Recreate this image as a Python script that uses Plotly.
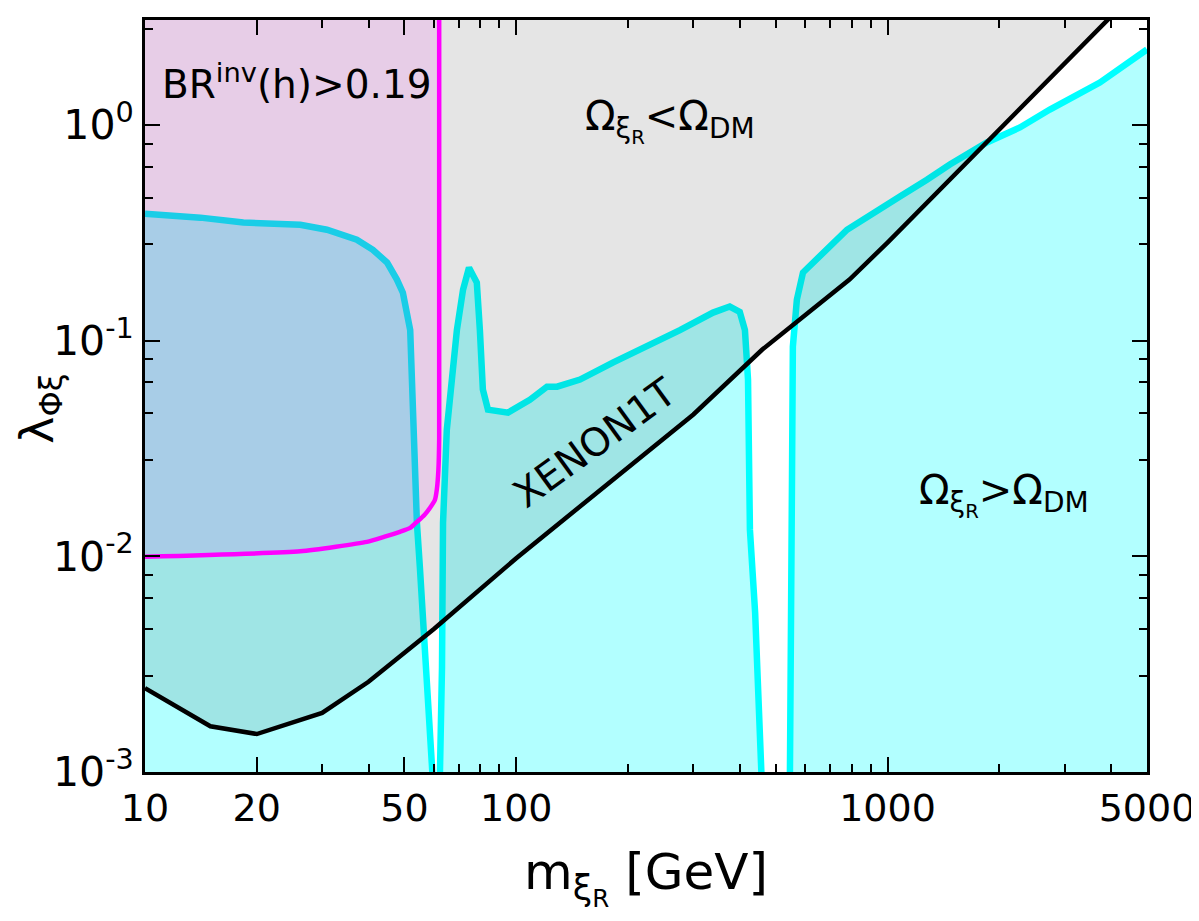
import plotly.graph_objects as go
import numpy as np

# relic density curve (Omega = Omega_DM), cyan
relic_m = [10, 14.1, 18.4, 22.7, 26.2, 30.9, 37.2, 41.1, 44.9, 47.7, 49.5, 51.8, 52.7, 54.0, 55.0, 57.5, 59.7,
           62.0, 62.3, 63.1, 63.5, 65.0, 69.2, 71.9, 74.6, 78.3, 79.8, 81.3, 83.9, 90.3, 95.0, 108.8, 121, 128.8,
           148.5, 182, 225, 276, 339, 376, 400, 413, 421, 426, 440, 461, 470, 540, 546, 553, 556, 570, 592, 778,
           914, 1080, 1277, 1472, 1852, 2274, 2737, 3732, 5000]
relic_lam = [0.388, 0.372, 0.353, 0.349, 0.345, 0.327, 0.294, 0.264, 0.230, 0.192, 0.167, 0.112, 0.0386, 0.0143,
             0.00893, 0.00307, 0.00105, 0.0003, 0.001, 0.00307, 0.0143, 0.0386, 0.112, 0.1725, 0.218, 0.186, 0.112,
             0.0593, 0.0479, 0.0469, 0.0464, 0.0532, 0.0612, 0.0612, 0.0660, 0.0791, 0.0938, 0.112, 0.135, 0.144,
             0.136, 0.112, 0.0660, 0.0133, 0.00547, 0.001, 0.0003, 0.0003, 0.001, 0.0227, 0.0938, 0.155, 0.207,
             0.327, 0.393, 0.466, 0.558, 0.656, 0.830, 0.974, 1.18, 1.574, 2.24]

# XENON1T limit, black
xenon_m = [10, 15, 20, 30, 40, 60, 100, 200, 300, 460, 790, 1000, 5000]
xenon_lam = [2.45e-3, 1.63e-3, 1.5e-3, 1.88e-3, 2.62e-3, 4.6e-3, 9.8e-3, 0.026, 0.0455, 0.091, 0.192, 0.285, 4.7]

# invisible higgs width bound, magenta
brinv_m = [10, 26.2, 39.6, 44.0, 48.6, 51.8, 54.0, 56.5, 58.6, 60.4, 61.1, 61.7, 62.0, 62.0]
brinv_lam = [0.00996, 0.01055, 0.01167, 0.0123, 0.0130, 0.01355, 0.01445, 0.0155, 0.0168, 0.0183, 0.0204,
             0.0252, 0.035, 5]

x_ticks = [10, 20, 50, 100, 1000, 5000]
y_ticks = [1e-3, 1e-2, 1e-1, 1]
y_ticktext = ["10<sup>-3</sup>", "10<sup>-2</sup>", "10<sup>-1</sup>", "10<sup>0</sup>"]

lo, hi = 1e-4, 100
font = "DejaVu Sans"

fig = go.Figure()

# overabundant region (below relic curve)
fig.add_trace(go.Scatter(x=relic_m + [relic_m[-1], relic_m[0]], y=relic_lam + [lo, lo],
                         fill="toself", fillcolor="rgba(0,255,255,0.3)", mode="none", showlegend=False))
fig.add_trace(go.Scatter(x=relic_m, y=relic_lam, mode="lines", line=dict(color="#00ffff", width=6.5),
                         showlegend=False))
# XENON1T excluded region
fig.add_trace(go.Scatter(x=xenon_m + [xenon_m[-1], xenon_m[0]], y=xenon_lam + [hi, hi],
                         fill="toself", fillcolor="rgba(0,0,0,0.1)", mode="none", showlegend=False))
# BR inv excluded region
fig.add_trace(go.Scatter(x=brinv_m + [brinv_m[0]], y=brinv_lam + [hi],
                         fill="toself", fillcolor="rgba(255,0,255,0.1)", mode="none", showlegend=False))
fig.add_trace(go.Scatter(x=brinv_m, y=brinv_lam, mode="lines",
                         line=dict(color="#ff00ff", width=4.5, shape="spline", smoothing=0.5),
                         showlegend=False))
fig.add_trace(go.Scatter(x=xenon_m, y=xenon_lam, mode="lines", line=dict(color="black", width=4.5),
                         showlegend=False))

minor_x = [d * 10 ** e for e in range(1, 4) for d in range(2, 10) if d * 10 ** e not in x_ticks]
minor_y = [d * 10.0 ** e for e in range(-3, 1) for d in (2.8, 4.6, 6.4, 8.2)]

fig.update_xaxes(type="log", range=[1, np.log10(5000)], tickvals=x_ticks, ticktext=[str(v) for v in x_ticks],
                 ticks="inside", ticklen=15, tickwidth=2, tickcolor="black", mirror="ticks", automargin=False,
                 showline=True, linewidth=3, linecolor="black", showgrid=False, zeroline=False,
                 tickfont=dict(family=font, size=38, color="black"), ticklabeloverflow="allow",
                 minor=dict(tickvals=minor_x, ticks="inside", ticklen=8, tickwidth=2, tickcolor="black", showgrid=False),
                 title=dict(text="m<sub>ξ<sub>R</sub></sub> [GeV]", font=dict(family=font, size=50, color="black"),
                            standoff=42))
fig.update_yaxes(type="log", range=[-3, 0.487], tickvals=y_ticks, ticktext=y_ticktext,
                 ticks="inside", ticklen=15, tickwidth=2, tickcolor="black", mirror="ticks", automargin=False,
                 showline=True, linewidth=3, linecolor="black", showgrid=False, zeroline=False,
                 tickfont=dict(family=font, size=41, color="black"),
                 minor=dict(tickvals=minor_y, ticks="inside", ticklen=8, tickwidth=2, tickcolor="black", showgrid=False))

# y-axis title as annotation so it can sit a little below the middle
fig.add_annotation(xref="paper", yref="paper", x=-0.105, y=0.484, text="λ<sub>Φξ</sub>", showarrow=False,
                   textangle=-90, xanchor="center", yanchor="middle",
                   font=dict(family=font, size=46, color="black"))

fig.add_annotation(x=1.04, y=0.2, text="BR<sup>inv</sup>(h)>0.19", showarrow=False, xanchor="left",
                   font=dict(family=font, size=39, color="black"))
fig.add_annotation(x=2.18, y=0.02, text="Ω<sub>ξ<sub>R</sub></sub><Ω<sub>DM</sub>", showarrow=False,
                   xanchor="left", font=dict(family=font, size=40, color="black"))
fig.add_annotation(x=3.079, y=-1.715, text="Ω<sub>ξ<sub>R</sub></sub>>Ω<sub>DM</sub>", showarrow=False,
                   xanchor="left", font=dict(family=font, size=40, color="black"))
fig.add_annotation(x=2.212, y=-1.473, text="XENON1T", showarrow=False, textangle=-36,
                   font=dict(family=font, size=39, color="black"))

# page body adds 8px around the figure; keep the page inside the 1199x921 window
fig.update_layout(width=1183, height=905, margin=dict(l=137, r=44, t=12, b=141),
                  plot_bgcolor="white", paper_bgcolor="white", font=dict(family=font, color="black"))

fig.write_html("out.html", config={"displayModeBar": False})
